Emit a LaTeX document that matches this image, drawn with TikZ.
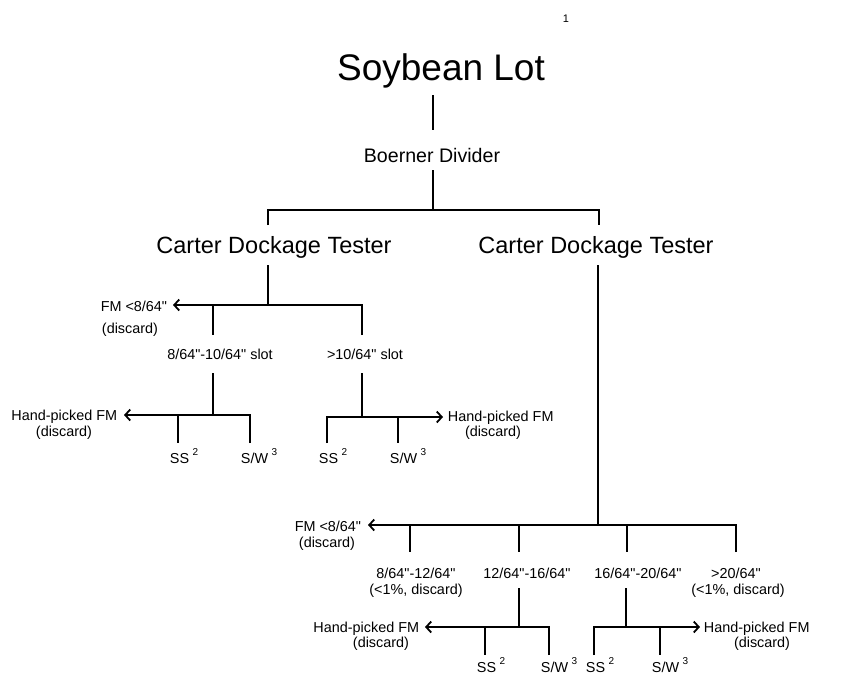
\documentclass[tikz,border=0pt]{standalone}
\usepackage{fontspec}
\setmainfont{Liberation Sans}[Ligatures=TeXOff]
\usetikzlibrary{arrows.meta}
\newcommand\mysup[1]{\hspace{3.5pt}\raisebox{8pt}{\fontsize{10}{12}\selectfont #1}}
\begin{document}
\begin{tikzpicture}[x=1pt,y=-1pt,
  line width=1.8pt,
  txt/.style={inner sep=0pt, anchor=base},
  sm/.style={txt, font=\fontsize{14.4}{17}\selectfont},
  smw/.style={sm, anchor=base west},
  sme/.style={sm, anchor=base east},
  arr/.style={-{Straight Barb[length=5pt,width=11pt,line width=1.8pt]}}
]
\useasboundingbox (0,0) rectangle (851,675);
% top
\node[txt, font=\fontsize{37}{40}\selectfont] (lot) at (441,80) {Soybean Lot};
\node[txt, anchor=base west, font=\fontsize{11}{12}\selectfont] (n1) at (562,22) {1};
\coordinate (lotb) at (433,95);
\coordinate (bdt) at (433,130);
\node[txt, font=\fontsize{19.6}{22}\selectfont] (bd) at (432,162) {Boerner Divider};
\coordinate (bdb) at (433,170);
\coordinate (j0) at (433,210);
\coordinate (c1t) at (268,225);
\coordinate (c2t) at (599,225);
\node[txt, font=\fontsize{23.5}{26}\selectfont] (cdt1) at (274,253) {Carter Dockage Tester};
\node[txt, font=\fontsize{23.5}{26}\selectfont] (cdt2) at (596,253) {Carter Dockage Tester};
\draw (lotb) -- (bdt);
\draw (bdb) -- (j0);
\draw (c1t) |- (j0) -| (c2t);

% left tester
\coordinate (c1b) at (268,265);
\coordinate (j1) at (268,305);
\coordinate (a1) at (173,305);
\coordinate (j1a) at (213,305); \coordinate (s1t) at (213,335);
\coordinate (j1b) at (362,305); \coordinate (s2t) at (362,335);
\draw (c1b) -- (j1);
\draw[arr] (s2t) -- (j1b) -- (a1);
\draw (j1a) -- (s1t);
\node[sme] (fm1) at (168,311) {FM <8/64"};
\node[sm] (fm1d) at (130,333) {(discard)};
\node[sm] (sl1) at (220,359) {8/64"-10/64" slot};
\node[sm] (sl2) at (365,359) {>10/64" slot};

% 8/64-10/64 group
\coordinate (s1b) at (213,373); \coordinate (j2) at (213,415);
\coordinate (a2) at (124,415);
\coordinate (j2a) at (178,415); \coordinate (e2a) at (178,443);
\coordinate (j2b) at (250,415); \coordinate (e2b) at (250,443);
\draw (s1b) -- (j2);
\draw[arr] (e2b) -- (j2b) -- (a2);
\draw (j2a) -- (e2a);
\node[sme] (hp1) at (118,420) {Hand-picked FM};
\node[sm] (hp1d) at (64,436) {(discard)};
\node[smw] (ss1) at (169,463) {SS\mysup{2}};
\node[smw] (sw1) at (240,463) {S/W\mysup{3}};

% >10/64 group
\coordinate (s2b) at (362,373); \coordinate (j3) at (362,417);
\coordinate (j3a) at (327,417); \coordinate (e3a) at (327,443);
\coordinate (j3b) at (398,417); \coordinate (e3b) at (398,443);
\coordinate (a3) at (443,417);
\draw (s2b) -- (j3);
\draw[arr] (e3a) -- (j3a) -- (a3);
\draw (j3b) -- (e3b);
\node[smw] (hp2) at (447,421) {Hand-picked FM};
\node[sm] (hp2d) at (493,436) {(discard)};
\node[smw] (ss2) at (318,463) {SS\mysup{2}};
\node[smw] (sw2) at (389,463) {S/W\mysup{3}};

% right tester
\coordinate (c2b) at (598,265); \coordinate (j4) at (598,525);
\coordinate (a4) at (368,525);
\coordinate (j4a) at (410,525); \coordinate (e4a) at (410,552);
\coordinate (j4b) at (519,525); \coordinate (e4b) at (519,552);
\coordinate (j4c) at (627,525); \coordinate (e4c) at (627,552);
\coordinate (j4d) at (736,525); \coordinate (e4d) at (736,552);
\draw (c2b) -- (j4);
\draw[arr] (e4d) -- (j4d) -- (a4);
\draw (j4a) -- (e4a);
\draw (j4b) -- (e4b);
\draw (j4c) -- (e4c);
\node[sme] (fm2) at (362,531) {FM <8/64"};
\node[sm] (fm2d) at (327,547) {(discard)};
\node[sm] (r1) at (416,578) {8/64"-12/64"};
\node[sm] (r1d) at (416,594) {(<1\%, discard)};
\node[sm] (r2) at (527,578) {12/64"-16/64"};
\node[sm] (r3) at (638,578) {16/64"-20/64"};
\node[sm] (r4) at (736,578) {>20/64"};
\node[sm] (r4d) at (738,594) {(<1\%, discard)};

% 12/64-16/64 group
\coordinate (r2b) at (519,588); \coordinate (j5) at (519,627);
\coordinate (a5) at (425,627);
\coordinate (j5a) at (485,627); \coordinate (e5a) at (485,655);
\coordinate (j5b) at (549,627); \coordinate (e5b) at (549,655);
\draw (r2b) -- (j5);
\draw[arr] (e5b) -- (j5b) -- (a5);
\draw (j5a) -- (e5a);
\node[sme] (hp3) at (420,632) {Hand-picked FM};
\node[sm] (hp3d) at (381,647) {(discard)};
\node[smw] (ss3) at (476,672) {SS\mysup{2}};
\node[smw] (sw3) at (540,672) {S/W\mysup{3}};

% 16/64-20/64 group
\coordinate (r3b) at (626,588); \coordinate (j6) at (626,627);
\coordinate (j6a) at (594,627); \coordinate (e6a) at (594,655);
\coordinate (j6b) at (660,627); \coordinate (e6b) at (660,655);
\coordinate (a6) at (700,627);
\draw (r3b) -- (j6);
\draw[arr] (e6a) -- (j6a) -- (a6);
\draw (j6b) -- (e6b);
\node[smw] (hp4) at (703,632) {Hand-picked FM};
\node[sm] (hp4d) at (762,647) {(discard)};
\node[smw] (ss4) at (585,672) {SS\mysup{2}};
\node[smw] (sw4) at (651,672) {S/W\mysup{3}};
\end{tikzpicture}
\end{document}
